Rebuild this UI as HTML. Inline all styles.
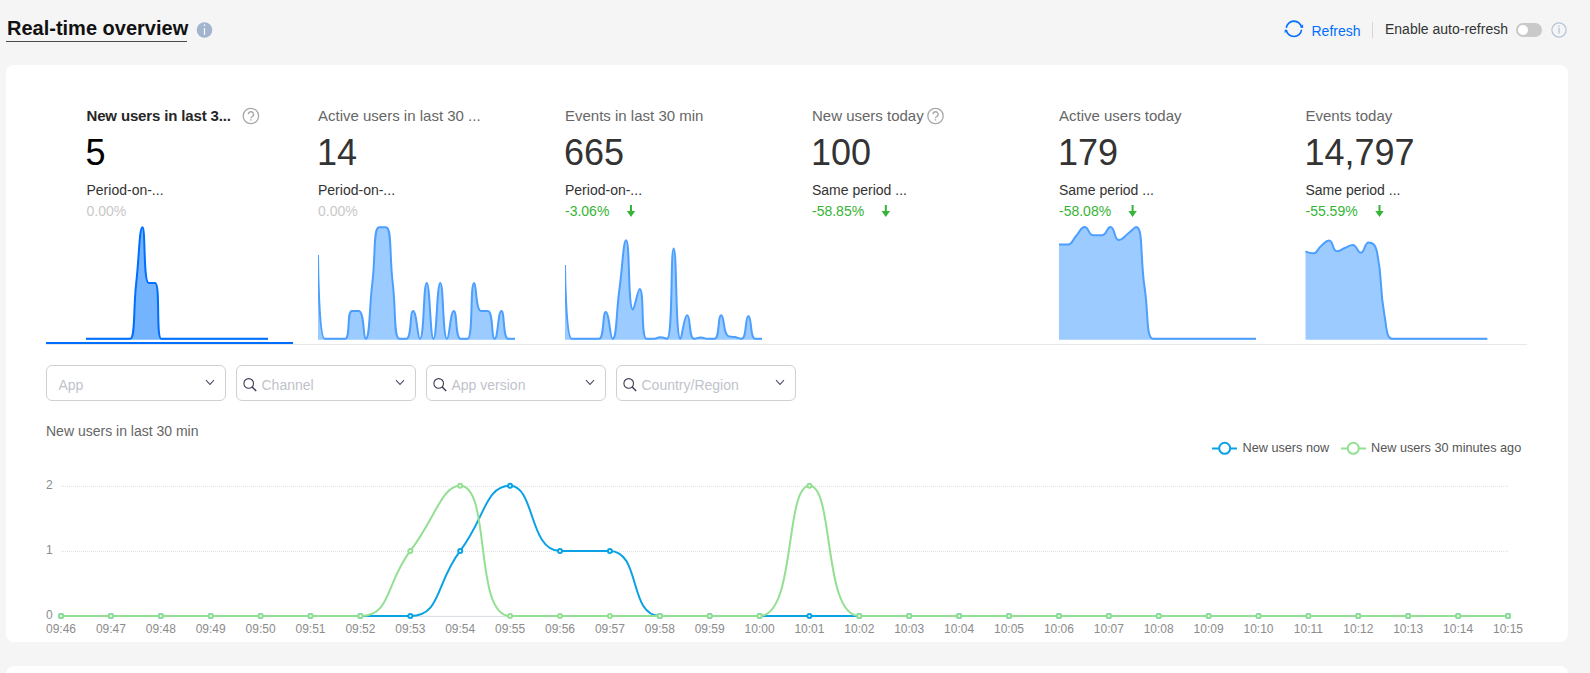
<!DOCTYPE html>
<html><head><meta charset="utf-8"><title>Real-time overview</title>
<style>
html,body{margin:0;padding:0;}
body{width:1590px;height:673px;overflow:hidden;background:#f5f5f5;position:relative;font-family:"Liberation Sans", sans-serif;}
.t{position:absolute;white-space:nowrap;}
.card{position:absolute;background:#fff;border-radius:8px;}
svg{position:absolute;left:0;top:0;overflow:visible;}
.sel{position:absolute;box-sizing:border-box;width:180px;height:36px;border:1px solid #d0d0d0;border-radius:6px;top:365px;background:#fff;}
</style></head><body>
<div class="t" style="left:7px;top:18.07px;font-size:20px;line-height:20px;color:#111;font-weight:bold;">Real-time overview</div>
<div style="position:absolute;left:6px;top:40.5px;width:181px;height:1.5px;background:#4a4a4a;"></div>
<svg width="1590" height="673" style="pointer-events:none">
<circle cx="204.5" cy="30" r="7.8" fill="#a3b4cf"/>
<rect x="203.9" y="24.4" width="1.3" height="1.5" fill="#fff"/>
<rect x="203.9" y="28.2" width="1.2" height="6.6" fill="#fff"/>
</svg>
<svg width="1590" height="673">
<g fill="none" stroke="#006eff" stroke-width="1.6">
<path d="M1286.26 27.86 A7.7 7.7 0 0 1 1301.53 27.73"/>
<path d="M1301.54 29.74 A7.7 7.7 0 0 1 1286.27 29.87"/>
</g>
<path d="M1303.1 24 L1303.1 28.1 L1301 27.5 Z" fill="#006eff"/>
<path d="M1284.7 33.6 L1284.7 29.5 L1286.8 30.1 Z" fill="#006eff"/>
<rect x="1372" y="22" width="1" height="16" fill="#d6d6d6"/>
<rect x="1516" y="23" width="26" height="14" rx="7" fill="#c9c9c9"/>
<circle cx="1523" cy="30" r="5" fill="#fff"/>
<circle cx="1559" cy="30" r="7.1" fill="none" stroke="#b6c4da" stroke-width="1.25"/>
<rect x="1558.4" y="25.6" width="1.3" height="1.4" fill="#b4c3da"/>
<rect x="1558.4" y="28" width="1.3" height="5.6" fill="#b4c3da"/>
</svg>
<div class="t" style="left:1311.5px;top:24.15px;font-size:14px;line-height:14px;color:#006eff;font-weight:normal;">Refresh</div>
<div class="t" style="left:1385px;top:22.15px;font-size:14px;line-height:14px;color:#333;font-weight:normal;">Enable auto-refresh</div>
<div class="card" style="left:6px;top:65px;width:1562px;height:577px;"></div>
<div class="card" style="left:6px;top:666px;width:1562px;height:40px;"></div>
<div class="t" style="left:86.5px;top:108.30px;font-size:15px;line-height:15px;color:#262626;font-weight:bold;letter-spacing:-0.15px;">New users in last 3...</div>
<div class="t" style="left:85.5px;top:134.73px;font-size:36px;line-height:36px;color:#000;font-weight:normal;">5</div>
<div class="t" style="left:86.5px;top:182.65px;font-size:14px;line-height:14px;color:#333;font-weight:normal;">Period-on-...</div>
<div class="t" style="left:86.5px;top:203.65px;font-size:14px;line-height:14px;color:#c8c8c8;font-weight:normal;">0.00%</div>
<div class="t" style="left:318px;top:108.30px;font-size:15px;line-height:15px;color:#666;font-weight:normal;">Active users in last 30 ...</div>
<div class="t" style="left:317px;top:134.73px;font-size:36px;line-height:36px;color:#333;font-weight:normal;">14</div>
<div class="t" style="left:318px;top:182.65px;font-size:14px;line-height:14px;color:#333;font-weight:normal;">Period-on-...</div>
<div class="t" style="left:318px;top:203.65px;font-size:14px;line-height:14px;color:#c8c8c8;font-weight:normal;">0.00%</div>
<div class="t" style="left:565px;top:108.30px;font-size:15px;line-height:15px;color:#666;font-weight:normal;">Events in last 30 min</div>
<div class="t" style="left:564px;top:134.73px;font-size:36px;line-height:36px;color:#333;font-weight:normal;">665</div>
<div class="t" style="left:565px;top:182.65px;font-size:14px;line-height:14px;color:#333;font-weight:normal;">Period-on-...</div>
<div class="t" style="left:565px;top:203.65px;font-size:14px;line-height:14px;color:#35b435;font-weight:normal;">-3.06%</div>
<div class="t" style="left:812px;top:108.30px;font-size:15px;line-height:15px;color:#666;font-weight:normal;">New users today</div>
<div class="t" style="left:811px;top:134.73px;font-size:36px;line-height:36px;color:#333;font-weight:normal;">100</div>
<div class="t" style="left:812px;top:182.65px;font-size:14px;line-height:14px;color:#333;font-weight:normal;">Same period ...</div>
<div class="t" style="left:812px;top:203.65px;font-size:14px;line-height:14px;color:#35b435;font-weight:normal;">-58.85%</div>
<div class="t" style="left:1059px;top:108.30px;font-size:15px;line-height:15px;color:#666;font-weight:normal;">Active users today</div>
<div class="t" style="left:1058px;top:134.73px;font-size:36px;line-height:36px;color:#333;font-weight:normal;">179</div>
<div class="t" style="left:1059px;top:182.65px;font-size:14px;line-height:14px;color:#333;font-weight:normal;">Same period ...</div>
<div class="t" style="left:1059px;top:203.65px;font-size:14px;line-height:14px;color:#35b435;font-weight:normal;">-58.08%</div>
<div class="t" style="left:1305.5px;top:108.30px;font-size:15px;line-height:15px;color:#666;font-weight:normal;">Events today</div>
<div class="t" style="left:1304.5px;top:134.73px;font-size:36px;line-height:36px;color:#333;font-weight:normal;">14,797</div>
<div class="t" style="left:1305.5px;top:182.65px;font-size:14px;line-height:14px;color:#333;font-weight:normal;">Same period ...</div>
<div class="t" style="left:1305.5px;top:203.65px;font-size:14px;line-height:14px;color:#35b435;font-weight:normal;">-55.59%</div>
<svg width="1590" height="673">
<circle cx="250.9" cy="116.0" r="7.7" fill="none" stroke="#a8a8a8" stroke-width="1.3"/>
<path d="M248.4 114.3 A2.55 2.55 0 1 1 252.20000000000002 116.5 Q250.9 117.1 250.9 118.3" fill="none" stroke="#a8a8a8" stroke-width="1.35"/>
<rect x="250.20000000000002" y="119.2" width="1.4" height="1.4" fill="#a8a8a8"/>
<circle cx="935.5" cy="116.0" r="7.7" fill="none" stroke="#a8a8a8" stroke-width="1.3"/>
<path d="M933.0 114.3 A2.55 2.55 0 1 1 936.8 116.5 Q935.5 117.1 935.5 118.3" fill="none" stroke="#a8a8a8" stroke-width="1.35"/>
<rect x="934.8" y="119.2" width="1.4" height="1.4" fill="#a8a8a8"/>
<rect x="630" y="205" width="2" height="7" fill="#36b436"/>
<path d="M626.8 211 L635.2 211 L631 217 Z" fill="#36b436"/>
<rect x="884.8" y="205" width="2" height="7" fill="#36b436"/>
<path d="M881.5999999999999 211 L890.0 211 L885.8 217 Z" fill="#36b436"/>
<rect x="1131.6" y="205" width="2" height="7" fill="#36b436"/>
<path d="M1128.3999999999999 211 L1136.8 211 L1132.6 217 Z" fill="#36b436"/>
<rect x="1378.5" y="205" width="2" height="7" fill="#36b436"/>
<path d="M1375.3 211 L1383.7 211 L1379.5 217 Z" fill="#36b436"/>
<clipPath id="c86"><rect x="86" y="200" width="184" height="145"/></clipPath>
<g clip-path="url(#c86)"><path d="M86.00 338.80 C86.00 338.80 89.14 338.80 92.28 338.80 C95.41 338.80 95.41 338.80 98.55 338.80 C101.69 338.80 101.69 338.80 104.83 338.80 C107.97 338.80 107.97 338.80 111.10 338.80 C114.24 338.80 114.24 338.80 117.38 338.80 C120.52 338.80 120.52 338.80 123.66 338.80 C126.79 338.80 129.30 338.80 129.93 338.80 C135.58 338.80 133.07 310.90 136.21 283.00 C139.34 255.10 139.34 227.20 142.48 227.20 C145.62 227.20 143.11 283.00 148.76 283.00 C149.39 283.00 154.40 283.00 155.03 283.00 C160.68 283.00 155.67 338.80 161.31 338.80 C161.94 338.80 164.45 338.80 167.59 338.80 C170.72 338.80 170.72 338.80 173.86 338.80 C177.00 338.80 177.00 338.80 180.14 338.80 C183.28 338.80 183.28 338.80 186.41 338.80 C189.55 338.80 189.55 338.80 192.69 338.80 C195.83 338.80 195.83 338.80 198.97 338.80 C202.10 338.80 202.10 338.80 205.24 338.80 C208.38 338.80 208.38 338.80 211.52 338.80 C214.66 338.80 214.66 338.80 217.79 338.80 C220.93 338.80 220.93 338.80 224.07 338.80 C227.21 338.80 227.21 338.80 230.34 338.80 C233.48 338.80 233.48 338.80 236.62 338.80 C239.76 338.80 239.76 338.80 242.90 338.80 C246.03 338.80 246.03 338.80 249.17 338.80 C252.31 338.80 252.31 338.80 255.45 338.80 C258.59 338.80 258.59 338.80 261.72 338.80 C264.86 338.80 268.00 338.80 268.00 338.80 L268.00 339.80 L86.00 339.80 Z" fill="#74b4ff"/><path d="M86.00 338.80 C86.00 338.80 89.14 338.80 92.28 338.80 C95.41 338.80 95.41 338.80 98.55 338.80 C101.69 338.80 101.69 338.80 104.83 338.80 C107.97 338.80 107.97 338.80 111.10 338.80 C114.24 338.80 114.24 338.80 117.38 338.80 C120.52 338.80 120.52 338.80 123.66 338.80 C126.79 338.80 129.30 338.80 129.93 338.80 C135.58 338.80 133.07 310.90 136.21 283.00 C139.34 255.10 139.34 227.20 142.48 227.20 C145.62 227.20 143.11 283.00 148.76 283.00 C149.39 283.00 154.40 283.00 155.03 283.00 C160.68 283.00 155.67 338.80 161.31 338.80 C161.94 338.80 164.45 338.80 167.59 338.80 C170.72 338.80 170.72 338.80 173.86 338.80 C177.00 338.80 177.00 338.80 180.14 338.80 C183.28 338.80 183.28 338.80 186.41 338.80 C189.55 338.80 189.55 338.80 192.69 338.80 C195.83 338.80 195.83 338.80 198.97 338.80 C202.10 338.80 202.10 338.80 205.24 338.80 C208.38 338.80 208.38 338.80 211.52 338.80 C214.66 338.80 214.66 338.80 217.79 338.80 C220.93 338.80 220.93 338.80 224.07 338.80 C227.21 338.80 227.21 338.80 230.34 338.80 C233.48 338.80 233.48 338.80 236.62 338.80 C239.76 338.80 239.76 338.80 242.90 338.80 C246.03 338.80 246.03 338.80 249.17 338.80 C252.31 338.80 252.31 338.80 255.45 338.80 C258.59 338.80 258.59 338.80 261.72 338.80 C264.86 338.80 268.00 338.80 268.00 338.80" fill="none" stroke="#006eff" stroke-width="2" stroke-linejoin="round"/></g>
<clipPath id="c318"><rect x="318" y="200" width="199" height="145"/></clipPath>
<g clip-path="url(#c318)"><path d="M318.00 255.10 C318.00 255.10 318.51 338.80 324.79 338.80 C325.30 338.80 328.19 338.80 331.59 338.80 C334.98 338.80 334.98 338.80 338.38 338.80 C341.78 338.80 343.87 338.80 345.17 338.80 C350.67 338.80 346.47 310.90 351.97 310.90 C353.27 310.90 357.46 310.90 358.76 310.90 C364.25 310.90 363.25 338.80 365.55 338.80 C370.05 338.80 368.95 310.90 372.34 283.00 C375.74 255.10 373.08 227.20 379.14 227.20 C379.87 227.20 385.20 227.20 385.93 227.20 C391.99 227.20 389.33 255.10 392.72 283.00 C396.12 310.90 393.46 338.80 399.52 338.80 C400.25 338.80 405.01 338.80 406.31 338.80 C411.80 338.80 409.71 310.90 413.10 310.90 C416.50 310.90 417.60 338.80 419.90 338.80 C424.39 338.80 423.29 283.00 426.69 283.00 C430.09 283.00 430.09 338.80 433.48 338.80 C436.88 338.80 436.88 283.00 440.28 283.00 C443.67 283.00 442.57 338.80 447.07 338.80 C449.37 338.80 450.47 310.90 453.86 310.90 C457.26 310.90 455.16 338.80 460.66 338.80 C461.95 338.80 466.72 338.80 467.45 338.80 C473.51 338.80 469.75 283.00 474.24 283.00 C476.54 283.00 475.54 310.90 481.03 310.90 C482.33 310.90 486.53 310.90 487.83 310.90 C493.32 310.90 491.22 338.80 494.62 338.80 C498.02 338.80 498.02 310.90 501.41 310.90 C504.81 310.90 502.71 338.80 508.21 338.80 C509.51 338.80 515.00 338.80 515.00 338.80 L515.00 339.80 L318.00 339.80 Z" fill="#9ccbff"/><path d="M318.00 255.10 C318.00 255.10 318.51 338.80 324.79 338.80 C325.30 338.80 328.19 338.80 331.59 338.80 C334.98 338.80 334.98 338.80 338.38 338.80 C341.78 338.80 343.87 338.80 345.17 338.80 C350.67 338.80 346.47 310.90 351.97 310.90 C353.27 310.90 357.46 310.90 358.76 310.90 C364.25 310.90 363.25 338.80 365.55 338.80 C370.05 338.80 368.95 310.90 372.34 283.00 C375.74 255.10 373.08 227.20 379.14 227.20 C379.87 227.20 385.20 227.20 385.93 227.20 C391.99 227.20 389.33 255.10 392.72 283.00 C396.12 310.90 393.46 338.80 399.52 338.80 C400.25 338.80 405.01 338.80 406.31 338.80 C411.80 338.80 409.71 310.90 413.10 310.90 C416.50 310.90 417.60 338.80 419.90 338.80 C424.39 338.80 423.29 283.00 426.69 283.00 C430.09 283.00 430.09 338.80 433.48 338.80 C436.88 338.80 436.88 283.00 440.28 283.00 C443.67 283.00 442.57 338.80 447.07 338.80 C449.37 338.80 450.47 310.90 453.86 310.90 C457.26 310.90 455.16 338.80 460.66 338.80 C461.95 338.80 466.72 338.80 467.45 338.80 C473.51 338.80 469.75 283.00 474.24 283.00 C476.54 283.00 475.54 310.90 481.03 310.90 C482.33 310.90 486.53 310.90 487.83 310.90 C493.32 310.90 491.22 338.80 494.62 338.80 C498.02 338.80 498.02 310.90 501.41 310.90 C504.81 310.90 502.71 338.80 508.21 338.80 C509.51 338.80 515.00 338.80 515.00 338.80" fill="none" stroke="#4c9fff" stroke-width="2" stroke-linejoin="round"/></g>
<clipPath id="c565"><rect x="565" y="200" width="199" height="145"/></clipPath>
<g clip-path="url(#c565)"><path d="M565.00 265.00 C565.00 265.00 565.57 338.80 571.79 338.80 C572.36 338.80 575.19 338.80 578.59 338.80 C581.98 338.80 581.98 338.80 585.38 338.80 C588.78 338.80 588.78 338.80 592.17 338.80 C595.57 338.80 597.63 338.80 598.97 338.80 C604.42 338.80 602.36 312.00 605.76 312.00 C609.16 312.00 610.11 338.80 612.55 338.80 C616.90 338.80 615.98 314.40 619.34 290.00 C622.77 265.15 623.29 240.30 626.14 240.30 C630.08 240.30 627.75 309.50 632.93 309.50 C634.54 309.50 637.68 289.00 639.72 289.00 C644.48 289.00 640.53 338.80 646.52 338.80 C647.33 338.80 649.95 338.80 653.31 338.80 C656.75 338.80 656.71 337.30 660.10 337.30 C663.50 337.30 666.41 338.80 666.90 338.80 C673.21 338.80 670.29 248.50 673.69 248.50 C677.09 248.50 675.14 338.80 680.48 338.80 C681.93 338.80 683.88 315.20 687.28 315.20 C690.67 315.20 688.77 338.80 694.07 338.80 C695.56 338.80 697.47 337.50 700.86 337.50 C704.26 337.50 704.23 338.80 707.66 338.80 C711.02 338.80 712.98 338.80 714.45 338.80 C719.77 338.80 717.65 315.20 721.24 315.20 C724.44 315.20 722.86 332.81 728.03 336.00 C729.66 337.00 731.47 336.31 734.83 337.00 C738.26 337.71 740.07 338.80 741.62 338.80 C746.86 338.80 745.02 316.00 748.41 316.00 C751.81 316.00 749.92 338.80 755.21 338.80 C756.72 338.80 762.00 338.80 762.00 338.80 L762.00 339.80 L565.00 339.80 Z" fill="#9ccbff"/><path d="M565.00 265.00 C565.00 265.00 565.57 338.80 571.79 338.80 C572.36 338.80 575.19 338.80 578.59 338.80 C581.98 338.80 581.98 338.80 585.38 338.80 C588.78 338.80 588.78 338.80 592.17 338.80 C595.57 338.80 597.63 338.80 598.97 338.80 C604.42 338.80 602.36 312.00 605.76 312.00 C609.16 312.00 610.11 338.80 612.55 338.80 C616.90 338.80 615.98 314.40 619.34 290.00 C622.77 265.15 623.29 240.30 626.14 240.30 C630.08 240.30 627.75 309.50 632.93 309.50 C634.54 309.50 637.68 289.00 639.72 289.00 C644.48 289.00 640.53 338.80 646.52 338.80 C647.33 338.80 649.95 338.80 653.31 338.80 C656.75 338.80 656.71 337.30 660.10 337.30 C663.50 337.30 666.41 338.80 666.90 338.80 C673.21 338.80 670.29 248.50 673.69 248.50 C677.09 248.50 675.14 338.80 680.48 338.80 C681.93 338.80 683.88 315.20 687.28 315.20 C690.67 315.20 688.77 338.80 694.07 338.80 C695.56 338.80 697.47 337.50 700.86 337.50 C704.26 337.50 704.23 338.80 707.66 338.80 C711.02 338.80 712.98 338.80 714.45 338.80 C719.77 338.80 717.65 315.20 721.24 315.20 C724.44 315.20 722.86 332.81 728.03 336.00 C729.66 337.00 731.47 336.31 734.83 337.00 C738.26 337.71 740.07 338.80 741.62 338.80 C746.86 338.80 745.02 316.00 748.41 316.00 C751.81 316.00 749.92 338.80 755.21 338.80 C756.72 338.80 762.00 338.80 762.00 338.80" fill="none" stroke="#4c9fff" stroke-width="2" stroke-linejoin="round"/></g>
<clipPath id="c1059"><rect x="1059" y="200" width="199" height="145"/></clipPath>
<g clip-path="url(#c1059)"><path d="M1059.00 244.60 C1059.00 244.60 1064.02 244.60 1067.57 244.60 C1072.59 244.60 1071.90 240.35 1076.13 236.00 C1080.46 231.55 1080.33 227.00 1084.70 227.00 C1088.89 227.00 1088.28 235.30 1093.26 235.30 C1096.84 235.30 1098.25 235.30 1101.83 235.30 C1106.81 235.30 1106.69 227.00 1110.39 227.00 C1115.25 227.00 1113.83 240.10 1118.96 240.10 C1122.40 240.10 1123.35 237.19 1127.52 234.00 C1131.91 230.64 1134.78 227.00 1136.09 227.00 C1143.35 227.00 1139.99 257.56 1144.65 288.00 C1148.55 313.46 1145.87 338.80 1153.22 338.80 C1154.44 338.80 1157.50 338.80 1161.78 338.80 C1166.07 338.80 1166.07 338.80 1170.35 338.80 C1174.63 338.80 1174.63 338.80 1178.91 338.80 C1183.20 338.80 1183.20 338.80 1187.48 338.80 C1191.76 338.80 1191.76 338.80 1196.04 338.80 C1200.33 338.80 1200.33 338.80 1204.61 338.80 C1208.89 338.80 1208.89 338.80 1213.17 338.80 C1217.46 338.80 1217.46 338.80 1221.74 338.80 C1226.02 338.80 1226.02 338.80 1230.30 338.80 C1234.59 338.80 1234.59 338.80 1238.87 338.80 C1243.15 338.80 1243.15 338.80 1247.43 338.80 C1251.72 338.80 1256.00 338.80 1256.00 338.80 L1256.00 339.80 L1059.00 339.80 Z" fill="#9ccbff"/><path d="M1059.00 244.60 C1059.00 244.60 1064.02 244.60 1067.57 244.60 C1072.59 244.60 1071.90 240.35 1076.13 236.00 C1080.46 231.55 1080.33 227.00 1084.70 227.00 C1088.89 227.00 1088.28 235.30 1093.26 235.30 C1096.84 235.30 1098.25 235.30 1101.83 235.30 C1106.81 235.30 1106.69 227.00 1110.39 227.00 C1115.25 227.00 1113.83 240.10 1118.96 240.10 C1122.40 240.10 1123.35 237.19 1127.52 234.00 C1131.91 230.64 1134.78 227.00 1136.09 227.00 C1143.35 227.00 1139.99 257.56 1144.65 288.00 C1148.55 313.46 1145.87 338.80 1153.22 338.80 C1154.44 338.80 1157.50 338.80 1161.78 338.80 C1166.07 338.80 1166.07 338.80 1170.35 338.80 C1174.63 338.80 1174.63 338.80 1178.91 338.80 C1183.20 338.80 1183.20 338.80 1187.48 338.80 C1191.76 338.80 1191.76 338.80 1196.04 338.80 C1200.33 338.80 1200.33 338.80 1204.61 338.80 C1208.89 338.80 1208.89 338.80 1213.17 338.80 C1217.46 338.80 1217.46 338.80 1221.74 338.80 C1226.02 338.80 1226.02 338.80 1230.30 338.80 C1234.59 338.80 1234.59 338.80 1238.87 338.80 C1243.15 338.80 1243.15 338.80 1247.43 338.80 C1251.72 338.80 1256.00 338.80 1256.00 338.80" fill="none" stroke="#4c9fff" stroke-width="2" stroke-linejoin="round"/></g>
<clipPath id="c1305"><rect x="1305.3" y="200" width="184" height="145"/></clipPath>
<g clip-path="url(#c1305)"><path d="M1305.30 251.30 C1305.30 251.30 1309.80 253.30 1313.21 253.30 C1317.71 253.30 1316.95 249.38 1321.13 246.00 C1324.86 242.98 1325.73 240.50 1329.04 240.50 C1333.64 240.50 1332.13 251.30 1336.95 251.30 C1340.04 251.30 1340.88 249.59 1344.87 248.00 C1348.80 246.44 1349.34 245.00 1352.78 245.00 C1357.26 245.00 1357.06 252.70 1360.69 252.70 C1364.97 252.70 1364.31 242.40 1368.60 242.40 C1372.23 242.40 1375.38 244.79 1376.52 250.00 C1383.29 281.09 1378.71 282.90 1384.43 315.00 C1386.62 327.30 1386.33 338.80 1392.34 338.80 C1394.24 338.80 1396.30 338.80 1400.26 338.80 C1404.21 338.80 1404.21 338.80 1408.17 338.80 C1412.13 338.80 1412.13 338.80 1416.08 338.80 C1420.04 338.80 1420.04 338.80 1424.00 338.80 C1427.95 338.80 1427.95 338.80 1431.91 338.80 C1435.87 338.80 1435.87 338.80 1439.82 338.80 C1443.78 338.80 1443.78 338.80 1447.73 338.80 C1451.69 338.80 1451.69 338.80 1455.65 338.80 C1459.60 338.80 1459.60 338.80 1463.56 338.80 C1467.52 338.80 1467.52 338.80 1471.47 338.80 C1475.43 338.80 1475.43 338.80 1479.39 338.80 C1483.34 338.80 1487.30 338.80 1487.30 338.80 L1487.30 339.80 L1305.30 339.80 Z" fill="#9ccbff"/><path d="M1305.30 251.30 C1305.30 251.30 1309.80 253.30 1313.21 253.30 C1317.71 253.30 1316.95 249.38 1321.13 246.00 C1324.86 242.98 1325.73 240.50 1329.04 240.50 C1333.64 240.50 1332.13 251.30 1336.95 251.30 C1340.04 251.30 1340.88 249.59 1344.87 248.00 C1348.80 246.44 1349.34 245.00 1352.78 245.00 C1357.26 245.00 1357.06 252.70 1360.69 252.70 C1364.97 252.70 1364.31 242.40 1368.60 242.40 C1372.23 242.40 1375.38 244.79 1376.52 250.00 C1383.29 281.09 1378.71 282.90 1384.43 315.00 C1386.62 327.30 1386.33 338.80 1392.34 338.80 C1394.24 338.80 1396.30 338.80 1400.26 338.80 C1404.21 338.80 1404.21 338.80 1408.17 338.80 C1412.13 338.80 1412.13 338.80 1416.08 338.80 C1420.04 338.80 1420.04 338.80 1424.00 338.80 C1427.95 338.80 1427.95 338.80 1431.91 338.80 C1435.87 338.80 1435.87 338.80 1439.82 338.80 C1443.78 338.80 1443.78 338.80 1447.73 338.80 C1451.69 338.80 1451.69 338.80 1455.65 338.80 C1459.60 338.80 1459.60 338.80 1463.56 338.80 C1467.52 338.80 1467.52 338.80 1471.47 338.80 C1475.43 338.80 1475.43 338.80 1479.39 338.80 C1483.34 338.80 1487.30 338.80 1487.30 338.80" fill="none" stroke="#4c9fff" stroke-width="2" stroke-linejoin="round"/></g>
<rect x="46" y="344" width="1481" height="1" fill="#e8e8e8"/>
<rect x="46" y="342" width="247" height="2" fill="#006eff"/>
</svg>
<div class="sel" style="left:46px;"></div>
<div class="t" style="left:58.5px;top:378.15px;font-size:14px;line-height:14px;color:#bfc3cb;font-weight:normal;">App</div>
<div class="sel" style="left:236px;"></div>
<div class="t" style="left:261.5px;top:378.15px;font-size:14px;line-height:14px;color:#bfc3cb;font-weight:normal;">Channel</div>
<div class="sel" style="left:426px;"></div>
<div class="t" style="left:451.5px;top:378.15px;font-size:14px;line-height:14px;color:#bfc3cb;font-weight:normal;">App version</div>
<div class="sel" style="left:616px;"></div>
<div class="t" style="left:641.5px;top:378.15px;font-size:14px;line-height:14px;color:#bfc3cb;font-weight:normal;">Country/Region</div>
<svg width="1590" height="673">
<path d="M206 380.2 L210 384.4 L214 380.2" fill="none" stroke="#4d4d6b" stroke-width="1.05"/>
<circle cx="248.7" cy="383.4" r="4.8" fill="none" stroke="#3b3b55" stroke-width="1.1"/><path d="M252.2 386.9 L256.2 390.9" stroke="#3b3b55" stroke-width="1.4"/>
<path d="M396 380.2 L400 384.4 L404 380.2" fill="none" stroke="#4d4d6b" stroke-width="1.05"/>
<circle cx="438.7" cy="383.4" r="4.8" fill="none" stroke="#3b3b55" stroke-width="1.1"/><path d="M442.2 386.9 L446.2 390.9" stroke="#3b3b55" stroke-width="1.4"/>
<path d="M586 380.2 L590 384.4 L594 380.2" fill="none" stroke="#4d4d6b" stroke-width="1.05"/>
<circle cx="628.7" cy="383.4" r="4.8" fill="none" stroke="#3b3b55" stroke-width="1.1"/><path d="M632.2 386.9 L636.2 390.9" stroke="#3b3b55" stroke-width="1.4"/>
<path d="M776 380.2 L780 384.4 L784 380.2" fill="none" stroke="#4d4d6b" stroke-width="1.05"/>
</svg>
<div class="t" style="left:46px;top:424.45px;font-size:14px;line-height:14px;color:#666;font-weight:normal;">New users in last 30 min</div>
<div class="t" style="left:1242.5px;top:442.35px;font-size:12.7px;line-height:12.7px;color:#555;font-weight:normal;">New users now</div>
<div class="t" style="left:1371px;top:442.35px;font-size:12.7px;line-height:12.7px;color:#555;font-weight:normal;">New users 30 minutes ago</div>
<svg width="1590" height="673">
<path d="M1212 448.5 L1237 448.5" stroke="#0aa2e4" stroke-width="2"/><circle cx="1224.7" cy="448.3" r="5.5" fill="#fff" stroke="#0aa2e4" stroke-width="2"/>
<path d="M1341 448.5 L1366 448.5" stroke="#93df93" stroke-width="2"/><circle cx="1353.3" cy="448.3" r="5.5" fill="#fff" stroke="#93df93" stroke-width="2"/>
<path d="M61.0 551.4 L1508.0 551.4" stroke="#e0e0e0" stroke-width="1" stroke-dasharray="1 1"/>
<path d="M61.0 486.3 L1508.0 486.3" stroke="#e0e0e0" stroke-width="1" stroke-dasharray="1 1"/>
<path d="M61.0 616.4 L1508.0 616.4" stroke="#d6dae2" stroke-width="1"/>
<text x="52.8" y="619.1" text-anchor="end" font-size="12" fill="#8c8c8c">0</text>
<text x="52.8" y="554.0" text-anchor="end" font-size="12" fill="#8c8c8c">1</text>
<text x="52.8" y="488.9" text-anchor="end" font-size="12" fill="#8c8c8c">2</text>
<text x="61.0" y="633" text-anchor="middle" font-size="12" fill="#8c8c8c">09:46</text>
<text x="110.9" y="633" text-anchor="middle" font-size="12" fill="#8c8c8c">09:47</text>
<text x="160.8" y="633" text-anchor="middle" font-size="12" fill="#8c8c8c">09:48</text>
<text x="210.7" y="633" text-anchor="middle" font-size="12" fill="#8c8c8c">09:49</text>
<text x="260.6" y="633" text-anchor="middle" font-size="12" fill="#8c8c8c">09:50</text>
<text x="310.5" y="633" text-anchor="middle" font-size="12" fill="#8c8c8c">09:51</text>
<text x="360.4" y="633" text-anchor="middle" font-size="12" fill="#8c8c8c">09:52</text>
<text x="410.3" y="633" text-anchor="middle" font-size="12" fill="#8c8c8c">09:53</text>
<text x="460.2" y="633" text-anchor="middle" font-size="12" fill="#8c8c8c">09:54</text>
<text x="510.1" y="633" text-anchor="middle" font-size="12" fill="#8c8c8c">09:55</text>
<text x="560.0" y="633" text-anchor="middle" font-size="12" fill="#8c8c8c">09:56</text>
<text x="609.9" y="633" text-anchor="middle" font-size="12" fill="#8c8c8c">09:57</text>
<text x="659.8" y="633" text-anchor="middle" font-size="12" fill="#8c8c8c">09:58</text>
<text x="709.7" y="633" text-anchor="middle" font-size="12" fill="#8c8c8c">09:59</text>
<text x="759.6" y="633" text-anchor="middle" font-size="12" fill="#8c8c8c">10:00</text>
<text x="809.4" y="633" text-anchor="middle" font-size="12" fill="#8c8c8c">10:01</text>
<text x="859.3" y="633" text-anchor="middle" font-size="12" fill="#8c8c8c">10:02</text>
<text x="909.2" y="633" text-anchor="middle" font-size="12" fill="#8c8c8c">10:03</text>
<text x="959.1" y="633" text-anchor="middle" font-size="12" fill="#8c8c8c">10:04</text>
<text x="1009.0" y="633" text-anchor="middle" font-size="12" fill="#8c8c8c">10:05</text>
<text x="1058.9" y="633" text-anchor="middle" font-size="12" fill="#8c8c8c">10:06</text>
<text x="1108.8" y="633" text-anchor="middle" font-size="12" fill="#8c8c8c">10:07</text>
<text x="1158.7" y="633" text-anchor="middle" font-size="12" fill="#8c8c8c">10:08</text>
<text x="1208.6" y="633" text-anchor="middle" font-size="12" fill="#8c8c8c">10:09</text>
<text x="1258.5" y="633" text-anchor="middle" font-size="12" fill="#8c8c8c">10:10</text>
<text x="1308.4" y="633" text-anchor="middle" font-size="12" fill="#8c8c8c">10:11</text>
<text x="1358.3" y="633" text-anchor="middle" font-size="12" fill="#8c8c8c">10:12</text>
<text x="1408.2" y="633" text-anchor="middle" font-size="12" fill="#8c8c8c">10:13</text>
<text x="1458.1" y="633" text-anchor="middle" font-size="12" fill="#8c8c8c">10:14</text>
<text x="1508.0" y="633" text-anchor="middle" font-size="12" fill="#8c8c8c">10:15</text>
<path d="M61.00 616.00 C61.00 616.00 85.95 616.00 110.90 616.00 C135.84 616.00 135.84 616.00 160.79 616.00 C185.74 616.00 185.74 616.00 210.69 616.00 C235.64 616.00 235.64 616.00 260.59 616.00 C285.53 616.00 285.53 616.00 310.48 616.00 C335.43 616.00 335.43 616.00 360.38 616.00 C385.33 616.00 391.40 616.00 410.28 616.00 C441.30 616.00 435.22 583.45 460.17 550.90 C485.12 518.35 485.12 485.80 510.07 485.80 C535.02 485.80 528.94 550.90 559.97 550.90 C578.84 550.90 590.99 550.90 609.86 550.90 C640.89 550.90 628.73 616.00 659.76 616.00 C678.63 616.00 684.71 616.00 709.66 616.00 C734.60 616.00 734.60 616.00 759.55 616.00 C784.50 616.00 784.50 616.00 809.45 616.00 C834.40 616.00 834.40 616.00 859.34 616.00 C884.29 616.00 884.29 616.00 909.24 616.00 C934.19 616.00 934.19 616.00 959.14 616.00 C984.09 616.00 984.09 616.00 1009.03 616.00 C1033.98 616.00 1033.98 616.00 1058.93 616.00 C1083.88 616.00 1083.88 616.00 1108.83 616.00 C1133.78 616.00 1133.78 616.00 1158.72 616.00 C1183.67 616.00 1183.67 616.00 1208.62 616.00 C1233.57 616.00 1233.57 616.00 1258.52 616.00 C1283.47 616.00 1283.47 616.00 1308.41 616.00 C1333.36 616.00 1333.36 616.00 1358.31 616.00 C1383.26 616.00 1383.26 616.00 1408.21 616.00 C1433.16 616.00 1433.16 616.00 1458.10 616.00 C1483.05 616.00 1508.00 616.00 1508.00 616.00" fill="none" stroke="#0aa2e4" stroke-width="2" stroke-linejoin="round"/>
<circle cx="61.0" cy="616.0" r="2" fill="#fff" stroke="#0aa2e4" stroke-width="2"/>
<circle cx="110.9" cy="616.0" r="2" fill="#fff" stroke="#0aa2e4" stroke-width="2"/>
<circle cx="160.8" cy="616.0" r="2" fill="#fff" stroke="#0aa2e4" stroke-width="2"/>
<circle cx="210.7" cy="616.0" r="2" fill="#fff" stroke="#0aa2e4" stroke-width="2"/>
<circle cx="260.6" cy="616.0" r="2" fill="#fff" stroke="#0aa2e4" stroke-width="2"/>
<circle cx="310.5" cy="616.0" r="2" fill="#fff" stroke="#0aa2e4" stroke-width="2"/>
<circle cx="360.4" cy="616.0" r="2" fill="#fff" stroke="#0aa2e4" stroke-width="2"/>
<circle cx="410.3" cy="616.0" r="2" fill="#fff" stroke="#0aa2e4" stroke-width="2"/>
<circle cx="460.2" cy="550.9" r="2" fill="#fff" stroke="#0aa2e4" stroke-width="2"/>
<circle cx="510.1" cy="485.8" r="2" fill="#fff" stroke="#0aa2e4" stroke-width="2"/>
<circle cx="560.0" cy="550.9" r="2" fill="#fff" stroke="#0aa2e4" stroke-width="2"/>
<circle cx="609.9" cy="550.9" r="2" fill="#fff" stroke="#0aa2e4" stroke-width="2"/>
<circle cx="659.8" cy="616.0" r="2" fill="#fff" stroke="#0aa2e4" stroke-width="2"/>
<circle cx="709.7" cy="616.0" r="2" fill="#fff" stroke="#0aa2e4" stroke-width="2"/>
<circle cx="759.6" cy="616.0" r="2" fill="#fff" stroke="#0aa2e4" stroke-width="2"/>
<circle cx="809.4" cy="616.0" r="2" fill="#fff" stroke="#0aa2e4" stroke-width="2"/>
<circle cx="859.3" cy="616.0" r="2" fill="#fff" stroke="#0aa2e4" stroke-width="2"/>
<circle cx="909.2" cy="616.0" r="2" fill="#fff" stroke="#0aa2e4" stroke-width="2"/>
<circle cx="959.1" cy="616.0" r="2" fill="#fff" stroke="#0aa2e4" stroke-width="2"/>
<circle cx="1009.0" cy="616.0" r="2" fill="#fff" stroke="#0aa2e4" stroke-width="2"/>
<circle cx="1058.9" cy="616.0" r="2" fill="#fff" stroke="#0aa2e4" stroke-width="2"/>
<circle cx="1108.8" cy="616.0" r="2" fill="#fff" stroke="#0aa2e4" stroke-width="2"/>
<circle cx="1158.7" cy="616.0" r="2" fill="#fff" stroke="#0aa2e4" stroke-width="2"/>
<circle cx="1208.6" cy="616.0" r="2" fill="#fff" stroke="#0aa2e4" stroke-width="2"/>
<circle cx="1258.5" cy="616.0" r="2" fill="#fff" stroke="#0aa2e4" stroke-width="2"/>
<circle cx="1308.4" cy="616.0" r="2" fill="#fff" stroke="#0aa2e4" stroke-width="2"/>
<circle cx="1358.3" cy="616.0" r="2" fill="#fff" stroke="#0aa2e4" stroke-width="2"/>
<circle cx="1408.2" cy="616.0" r="2" fill="#fff" stroke="#0aa2e4" stroke-width="2"/>
<circle cx="1458.1" cy="616.0" r="2" fill="#fff" stroke="#0aa2e4" stroke-width="2"/>
<circle cx="1508.0" cy="616.0" r="2" fill="#fff" stroke="#0aa2e4" stroke-width="2"/>
<path d="M61.00 616.00 C61.00 616.00 85.95 616.00 110.90 616.00 C135.84 616.00 135.84 616.00 160.79 616.00 C185.74 616.00 185.74 616.00 210.69 616.00 C235.64 616.00 235.64 616.00 260.59 616.00 C285.53 616.00 285.53 616.00 310.48 616.00 C335.43 616.00 341.51 616.00 360.38 616.00 C391.40 616.00 385.33 583.45 410.28 550.90 C435.22 518.35 441.69 485.80 460.17 485.80 C491.59 485.80 473.32 616.00 510.07 616.00 C523.22 616.00 535.02 616.00 559.97 616.00 C584.91 616.00 584.91 616.00 609.86 616.00 C634.81 616.00 634.81 616.00 659.76 616.00 C684.71 616.00 684.71 616.00 709.66 616.00 C734.60 616.00 746.40 616.00 759.55 616.00 C796.30 616.00 784.50 485.80 809.45 485.80 C834.40 485.80 822.60 616.00 859.34 616.00 C872.49 616.00 884.29 616.00 909.24 616.00 C934.19 616.00 934.19 616.00 959.14 616.00 C984.09 616.00 984.09 616.00 1009.03 616.00 C1033.98 616.00 1033.98 616.00 1058.93 616.00 C1083.88 616.00 1083.88 616.00 1108.83 616.00 C1133.78 616.00 1133.78 616.00 1158.72 616.00 C1183.67 616.00 1183.67 616.00 1208.62 616.00 C1233.57 616.00 1233.57 616.00 1258.52 616.00 C1283.47 616.00 1283.47 616.00 1308.41 616.00 C1333.36 616.00 1333.36 616.00 1358.31 616.00 C1383.26 616.00 1383.26 616.00 1408.21 616.00 C1433.16 616.00 1433.16 616.00 1458.10 616.00 C1483.05 616.00 1508.00 616.00 1508.00 616.00" fill="none" stroke="#93df93" stroke-width="2" stroke-linejoin="round"/>
<circle cx="61.0" cy="616.0" r="2" fill="#fff" stroke="#93df93" stroke-width="2"/>
<circle cx="110.9" cy="616.0" r="2" fill="#fff" stroke="#93df93" stroke-width="2"/>
<circle cx="160.8" cy="616.0" r="2" fill="#fff" stroke="#93df93" stroke-width="2"/>
<circle cx="210.7" cy="616.0" r="2" fill="#fff" stroke="#93df93" stroke-width="2"/>
<circle cx="260.6" cy="616.0" r="2" fill="#fff" stroke="#93df93" stroke-width="2"/>
<circle cx="310.5" cy="616.0" r="2" fill="#fff" stroke="#93df93" stroke-width="2"/>
<circle cx="360.4" cy="616.0" r="2" fill="#fff" stroke="#93df93" stroke-width="2"/>
<circle cx="410.3" cy="550.9" r="2" fill="#fff" stroke="#93df93" stroke-width="2"/>
<circle cx="460.2" cy="485.8" r="2" fill="#fff" stroke="#93df93" stroke-width="2"/>
<circle cx="510.1" cy="616.0" r="2" fill="#fff" stroke="#93df93" stroke-width="2"/>
<circle cx="560.0" cy="616.0" r="2" fill="#fff" stroke="#93df93" stroke-width="2"/>
<circle cx="609.9" cy="616.0" r="2" fill="#fff" stroke="#93df93" stroke-width="2"/>
<circle cx="659.8" cy="616.0" r="2" fill="#fff" stroke="#93df93" stroke-width="2"/>
<circle cx="709.7" cy="616.0" r="2" fill="#fff" stroke="#93df93" stroke-width="2"/>
<circle cx="759.6" cy="616.0" r="2" fill="#fff" stroke="#93df93" stroke-width="2"/>
<circle cx="809.4" cy="485.8" r="2" fill="#fff" stroke="#93df93" stroke-width="2"/>
<circle cx="859.3" cy="616.0" r="2" fill="#fff" stroke="#93df93" stroke-width="2"/>
<circle cx="909.2" cy="616.0" r="2" fill="#fff" stroke="#93df93" stroke-width="2"/>
<circle cx="959.1" cy="616.0" r="2" fill="#fff" stroke="#93df93" stroke-width="2"/>
<circle cx="1009.0" cy="616.0" r="2" fill="#fff" stroke="#93df93" stroke-width="2"/>
<circle cx="1058.9" cy="616.0" r="2" fill="#fff" stroke="#93df93" stroke-width="2"/>
<circle cx="1108.8" cy="616.0" r="2" fill="#fff" stroke="#93df93" stroke-width="2"/>
<circle cx="1158.7" cy="616.0" r="2" fill="#fff" stroke="#93df93" stroke-width="2"/>
<circle cx="1208.6" cy="616.0" r="2" fill="#fff" stroke="#93df93" stroke-width="2"/>
<circle cx="1258.5" cy="616.0" r="2" fill="#fff" stroke="#93df93" stroke-width="2"/>
<circle cx="1308.4" cy="616.0" r="2" fill="#fff" stroke="#93df93" stroke-width="2"/>
<circle cx="1358.3" cy="616.0" r="2" fill="#fff" stroke="#93df93" stroke-width="2"/>
<circle cx="1408.2" cy="616.0" r="2" fill="#fff" stroke="#93df93" stroke-width="2"/>
<circle cx="1458.1" cy="616.0" r="2" fill="#fff" stroke="#93df93" stroke-width="2"/>
<circle cx="1508.0" cy="616.0" r="2" fill="#fff" stroke="#93df93" stroke-width="2"/>
</svg>
</body></html>
